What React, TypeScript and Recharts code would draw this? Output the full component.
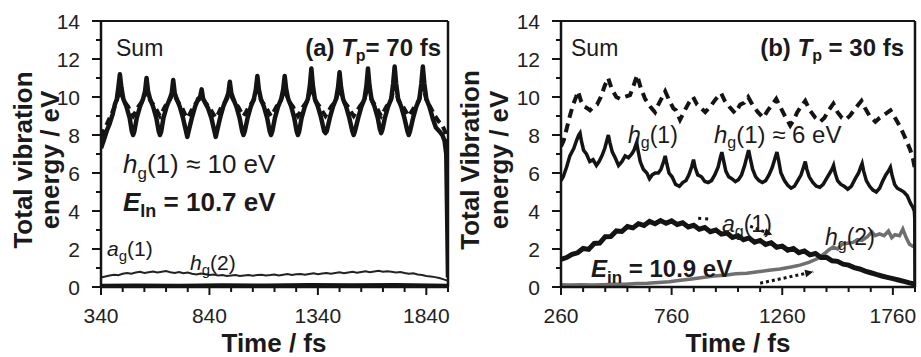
import React from "react";
import { LineChart, Line, XAxis, YAxis, ReferenceLine } from "recharts";

const FONT = "'Liberation Sans', Arial, Helvetica, sans-serif";
const INK = "#141414";

// ---- panel (a): Tp = 70 fs, time / fs vs energy / eV ----
const aTicks = [340, 440, 540, 640, 740, 840, 940, 1040, 1140, 1240, 1340, 1440, 1540, 1640, 1740, 1840, 1940];
const aLabels = [340, 840, 1340, 1840];

const aHg1: [number, number][] = [
  [340, 7.3], [352, 7.7], [366, 8.2], [380, 8.6], [394, 9.1], [404, 9.6], [413, 9.9], [420, 10.5], [427, 11.2],
  [434, 10.5], [443, 9.9], [457, 9.5], [472, 8.9], [482, 8.2], [488, 8.0], [494, 8.2], [505, 8.9], [520, 9.5],
  [534, 9.9], [543, 10.3], [550, 11.0], [557, 10.3], [566, 9.9], [580, 9.5], [595, 8.9], [606, 8.2], [612, 8.0],
  [618, 8.2], [628, 8.9], [643, 9.5], [657, 9.9], [666, 10.2], [673, 10.9], [680, 10.2], [689, 9.9], [703, 9.5],
  [718, 8.9], [732, 8.2], [738, 7.9], [744, 8.2], [759, 8.9], [774, 9.5], [788, 9.9], [797, 10.0], [804, 10.4],
  [811, 9.9], [820, 9.7], [834, 9.4], [849, 8.9], [863, 8.2], [869, 7.9], [875, 8.2], [889, 8.9], [904, 9.5],
  [918, 9.9], [927, 10.2], [934, 10.8], [941, 10.2], [950, 9.9], [964, 9.5], [979, 8.9], [991, 8.2], [997, 8.0],
  [1003, 8.2], [1016, 8.9], [1031, 9.5], [1045, 9.9], [1054, 10.4], [1061, 11.1], [1068, 10.4], [1077, 9.9],
  [1091, 9.5], [1106, 8.9], [1118, 8.2], [1124, 8.0], [1130, 8.2], [1142, 8.9], [1157, 9.5], [1171, 9.9],
  [1180, 10.4], [1187, 11.1], [1194, 10.4], [1203, 9.9], [1217, 9.5], [1231, 8.9], [1242, 8.2], [1248, 8.0],
  [1254, 8.2], [1265, 8.9], [1280, 9.5], [1294, 9.9], [1303, 10.6], [1310, 11.5], [1317, 10.6], [1326, 9.9],
  [1340, 9.5], [1355, 8.9], [1369, 8.2], [1375, 8.1], [1381, 8.2], [1395, 8.9], [1410, 9.5], [1424, 9.9],
  [1433, 10.5], [1440, 11.3], [1447, 10.5], [1456, 9.9], [1470, 9.5], [1485, 8.9], [1499, 8.2], [1505, 8.0],
  [1511, 8.2], [1526, 8.9], [1541, 9.5], [1555, 9.9], [1564, 10.6], [1571, 11.5], [1578, 10.6], [1587, 9.9],
  [1601, 9.5], [1616, 8.9], [1626, 8.3], [1632, 8.1], [1638, 8.3], [1649, 8.9], [1664, 9.5], [1678, 9.9],
  [1687, 10.7], [1694, 11.6], [1701, 10.7], [1710, 9.9], [1724, 9.5], [1739, 8.9], [1753, 8.2], [1759, 8.0],
  [1765, 8.2], [1779, 8.9], [1794, 9.5], [1808, 9.9], [1817, 10.7], [1824, 11.6], [1831, 10.7], [1840, 9.9],
  [1854, 9.5], [1869, 8.9], [1884, 8.4], [1900, 8.2], [1914, 8.0], [1924, 7.7], [1932, 7.0], [1937, 3.0], [1940, 0.5],
];

const aSum: [number, number][] = [
  [340, 7.9], [360, 8.4], [380, 8.9], [400, 9.4], [415, 9.9], [427, 10.4], [445, 9.8], [465, 9.5], [478, 9.2],
  [488, 9.0], [498, 9.2], [512, 9.5], [532, 9.8], [550, 10.3], [568, 9.8], [588, 9.5], [602, 9.2], [612, 9.0],
  [622, 9.2], [635, 9.5], [655, 9.8], [673, 10.2], [691, 9.8], [711, 9.5], [727, 9.1], [738, 8.9], [749, 9.1],
  [766, 9.5], [786, 9.8], [804, 10.0], [822, 9.7], [842, 9.4], [858, 9.1], [869, 8.9], [880, 9.1], [896, 9.5],
  [916, 9.8], [934, 10.2], [952, 9.8], [972, 9.5], [986, 9.2], [997, 9.0], [1008, 9.2], [1023, 9.5], [1043, 9.8],
  [1061, 10.4], [1079, 9.8], [1099, 9.5], [1113, 9.2], [1124, 9.0], [1135, 9.2], [1149, 9.5], [1169, 9.8],
  [1187, 10.4], [1205, 9.8], [1225, 9.5], [1238, 9.2], [1248, 9.0], [1258, 9.2], [1272, 9.5], [1292, 9.8],
  [1310, 10.6], [1328, 9.8], [1348, 9.5], [1364, 9.2], [1375, 9.0], [1386, 9.2], [1402, 9.5], [1422, 9.8],
  [1440, 10.5], [1458, 9.8], [1478, 9.5], [1494, 9.2], [1505, 9.0], [1516, 9.2], [1533, 9.5], [1553, 9.8],
  [1571, 10.6], [1589, 9.8], [1609, 9.5], [1622, 9.2], [1632, 9.0], [1642, 9.2], [1656, 9.5], [1676, 9.8],
  [1694, 10.6], [1712, 9.8], [1732, 9.5], [1748, 9.2], [1759, 9.0], [1770, 9.2], [1786, 9.5], [1806, 9.8],
  [1824, 10.6], [1842, 9.8], [1862, 9.4], [1880, 9.0], [1898, 8.7], [1914, 8.5], [1926, 8.2], [1934, 7.8], [1940, 7.4],
];

const aAg1: [number, number][] = [
  [340, 0.5], [360, 0.55], [380, 0.6], [400, 0.65], [420, 0.62], [440, 0.7], [460, 0.74], [480, 0.7], [500, 0.76],
  [520, 0.8], [540, 0.74], [560, 0.78], [580, 0.82], [600, 0.76], [620, 0.8], [640, 0.84], [660, 0.78], [680, 0.74],
  [700, 0.79], [720, 0.72], [740, 0.76], [760, 0.7], [780, 0.66], [800, 0.71], [820, 0.67], [840, 0.63], [860, 0.66],
  [880, 0.61], [900, 0.63], [920, 0.58], [940, 0.61], [960, 0.63], [980, 0.58], [1000, 0.61], [1020, 0.63],
  [1040, 0.59], [1060, 0.63], [1080, 0.65], [1100, 0.61], [1120, 0.63], [1140, 0.66], [1160, 0.61], [1180, 0.65],
  [1200, 0.68], [1220, 0.63], [1240, 0.67], [1260, 0.69], [1280, 0.65], [1300, 0.69], [1320, 0.72], [1340, 0.67],
  [1360, 0.71], [1380, 0.74], [1400, 0.7], [1420, 0.74], [1440, 0.77], [1460, 0.72], [1480, 0.76], [1500, 0.8],
  [1520, 0.75], [1540, 0.79], [1560, 0.83], [1580, 0.78], [1600, 0.82], [1620, 0.85], [1640, 0.8], [1660, 0.83],
  [1680, 0.8], [1700, 0.76], [1720, 0.79], [1740, 0.74], [1760, 0.7], [1780, 0.72], [1800, 0.66], [1820, 0.63],
  [1840, 0.58], [1860, 0.55], [1880, 0.52], [1900, 0.47], [1920, 0.4], [1940, 0.32],
];

const aHg2: [number, number][] = [
  [340, 0.06], [500, 0.08], [700, 0.07], [900, 0.09], [1100, 0.08], [1300, 0.1], [1500, 0.09], [1700, 0.1], [1940, 0.07],
];

// ---- panel (b): Tp = 30 fs ----
const bTicks = [260, 360, 460, 560, 660, 760, 860, 960, 1060, 1160, 1260, 1360, 1460, 1560, 1660, 1760, 1860];
const bLabels = [260, 760, 1260, 1760];

const bHg1: [number, number][] = [
  [260, 5.6], [270, 5.8], [285, 6.3], [300, 6.9], [318, 7.3], [330, 7.7], [340, 8.0], [346, 8.1], [352, 7.7],
  [362, 7.2], [375, 7.0], [390, 6.6], [405, 6.7], [420, 6.4], [432, 6.6], [445, 6.9], [458, 7.3], [467, 7.7],
  [474, 8.0], [481, 7.6], [492, 7.1], [505, 6.8], [520, 6.4], [535, 6.6], [550, 6.9], [565, 6.8], [580, 7.0],
  [590, 7.2], [596, 7.4], [602, 7.6], [608, 7.2], [618, 6.6], [632, 6.2], [648, 6.0], [660, 5.7], [672, 5.9],
  [686, 6.0], [700, 6.0], [712, 6.2], [724, 6.6], [731, 6.9], [738, 6.5], [748, 6.0], [762, 5.8], [778, 5.4],
  [795, 5.3], [810, 5.5], [825, 5.6], [838, 5.9], [850, 6.3], [859, 6.7], [866, 6.3], [878, 5.9], [895, 5.8],
  [910, 5.55], [925, 5.5], [940, 5.6], [955, 5.9], [970, 6.3], [980, 6.8], [987, 7.1], [994, 6.7], [1005, 6.1],
  [1018, 5.8], [1032, 5.7], [1048, 5.55], [1062, 5.65], [1076, 5.9], [1090, 6.4], [1101, 6.9], [1108, 7.2],
  [1115, 6.8], [1126, 6.2], [1140, 5.8], [1155, 5.6], [1170, 5.5], [1185, 5.6], [1200, 5.9], [1215, 6.3],
  [1228, 6.8], [1236, 7.1], [1243, 6.7], [1254, 6.0], [1270, 5.6], [1285, 5.35], [1300, 5.2], [1315, 5.3],
  [1330, 5.6], [1345, 5.9], [1356, 6.3], [1364, 6.6], [1371, 6.2], [1382, 5.8], [1398, 5.5], [1414, 5.3],
  [1430, 5.25], [1445, 5.4], [1460, 5.7], [1475, 6.0], [1485, 6.2], [1492, 6.4], [1499, 6.0], [1510, 5.6],
  [1525, 5.4], [1540, 5.3], [1556, 5.15], [1572, 5.3], [1590, 5.7], [1605, 6.0], [1614, 6.3], [1621, 6.5],
  [1628, 6.1], [1640, 5.6], [1655, 5.3], [1670, 5.1], [1685, 5.0], [1700, 5.2], [1715, 5.6], [1728, 5.9],
  [1740, 6.1], [1749, 6.3], [1756, 5.9], [1768, 5.4], [1780, 5.2], [1795, 5.1], [1810, 5.0], [1825, 4.8],
  [1840, 4.4], [1850, 4.2], [1857, 4.0], [1859, 3.6], [1860, 0.3],
];

const bSum: [number, number][] = [
  [260, 7.4], [272, 7.7], [285, 8.3], [300, 9.0], [315, 9.6], [328, 10.0], [337, 10.3], [350, 9.8], [365, 9.5],
  [380, 9.4], [391, 9.3], [407, 9.5], [423, 9.6], [440, 10.0], [458, 10.6], [473, 11.0], [490, 10.4], [510, 10.0],
  [527, 9.9], [545, 10.0], [572, 10.1], [588, 10.6], [604, 11.15], [620, 10.5], [640, 9.9], [663, 9.5], [685, 9.2],
  [700, 9.6], [718, 10.0], [731, 10.3], [750, 9.8], [768, 9.4], [780, 9.3], [798, 8.8], [815, 9.2], [838, 9.7],
  [857, 10.0], [875, 9.6], [895, 9.4], [912, 9.2], [935, 9.5], [960, 9.9], [984, 10.2], [1000, 9.8], [1020, 9.5],
  [1047, 9.15], [1070, 9.6], [1088, 9.7], [1106, 10.0], [1125, 9.6], [1150, 9.2], [1174, 8.9], [1195, 9.3],
  [1215, 9.6], [1233, 9.9], [1250, 9.5], [1272, 9.0], [1296, 8.5], [1312, 8.8], [1328, 9.2], [1345, 9.5],
  [1364, 9.8], [1385, 9.3], [1410, 8.9], [1432, 8.7], [1450, 8.9], [1470, 9.3], [1491, 9.65], [1510, 9.2],
  [1530, 8.9], [1545, 8.8], [1565, 9.0], [1590, 9.4], [1618, 9.8], [1635, 9.4], [1655, 9.0], [1681, 8.7],
  [1700, 8.9], [1725, 9.1], [1749, 9.3], [1765, 9.0], [1780, 8.7], [1794, 8.4], [1810, 8.0], [1825, 7.6],
  [1839, 7.2], [1850, 6.8], [1860, 6.2],
];

const bAg1: [number, number][] = [
  [260, 1.45], [285, 1.55], [310, 1.72], [335, 1.8], [360, 2.03], [385, 1.98], [410, 2.29], [435, 2.31],
  [460, 2.65], [485, 2.66], [510, 2.95], [535, 2.92], [560, 3.18], [585, 3.11], [610, 3.33], [635, 3.24],
  [660, 3.45], [685, 3.33], [710, 3.5], [735, 3.35], [760, 3.48], [785, 3.29], [810, 3.38], [835, 3.16],
  [860, 3.25], [885, 3.04], [910, 3.13], [935, 2.91], [960, 3.0], [985, 2.78], [1010, 2.84], [1035, 2.61],
  [1060, 2.7], [1085, 2.49], [1110, 2.58], [1135, 2.36], [1160, 2.45], [1185, 2.24], [1210, 2.33], [1235, 2.09],
  [1260, 2.15], [1285, 1.94], [1310, 2.03], [1335, 1.81], [1360, 1.9], [1385, 1.69], [1410, 1.76], [1435, 1.55],
  [1460, 1.56], [1485, 1.38], [1510, 1.35], [1535, 1.2], [1560, 1.15], [1585, 1.02], [1610, 0.95], [1635, 0.84],
  [1660, 0.75], [1685, 0.66], [1710, 0.58], [1735, 0.51], [1760, 0.44], [1785, 0.37], [1810, 0.3], [1835, 0.22],
  [1860, 0.15],
];

const bHg2: [number, number][] = [
  [260, 0.12], [300, 0.1], [350, 0.12], [400, 0.1], [450, 0.12], [500, 0.14], [550, 0.15], [600, 0.18], [650, 0.2],
  [700, 0.24], [750, 0.28], [800, 0.35], [850, 0.42], [900, 0.5], [950, 0.58], [1000, 0.62], [1050, 0.7],
  [1100, 0.72], [1150, 0.8], [1200, 0.88], [1250, 0.95], [1300, 1.05], [1340, 1.15], [1380, 1.3], [1420, 1.5],
  [1450, 1.75], [1470, 1.95], [1490, 2.1], [1510, 2.0], [1530, 2.25], [1555, 2.3], [1580, 2.35], [1600, 2.5],
  [1620, 2.45], [1645, 2.65], [1665, 2.9], [1680, 2.7], [1700, 2.8], [1720, 2.7], [1740, 2.95], [1755, 2.6],
  [1770, 2.75], [1790, 2.7], [1805, 3.05], [1820, 2.6], [1835, 2.25], [1850, 2.15], [1860, 2.1],
];

const yTicks = [0, 1, 2, 3, 4, 5, 6, 7, 8, 9, 10, 11, 12, 13, 14];
const yLabels = [0, 2, 4, 6, 8, 10, 12, 14];

const rows = (pts: [number, number][]) => pts.map(([t, e]) => ({ t, e }));

const XTick = (props: any) => {
  const { x, y, payload, labels } = props;
  const major = labels.includes(payload.value);
  return (
    <g>
      <line x1={x} y1={y} x2={x} y2={y + (major ? 8 : 5)} stroke={INK} strokeWidth={2} />
      {major && (
        <text x={x} y={y + 36} textAnchor="middle" fontSize={21} fontFamily={FONT} fill="#222">
          {payload.value}
        </text>
      )}
    </g>
  );
};

const YTick = (props: any) => {
  const { x, y, payload } = props;
  const major = yLabels.includes(payload.value);
  return (
    <g>
      <line x1={x} y1={y} x2={x - (major ? 9 : 5)} y2={y} stroke={INK} strokeWidth={2} />
      {major && (
        <text x={x - 21} y={y + 7.5} textAnchor="end" fontSize={21} fontFamily={FONT} fill="#222">
          {payload.value}
        </text>
      )}
    </g>
  );
};

const Arrow = (props: any) => {
  const { x1, y1, x2, y2 } = props;
  const a = Math.atan2(y2 - y1, x2 - x1);
  const h = 9;
  const p1 = `${x2 - h * Math.cos(a - 0.45)},${y2 - h * Math.sin(a - 0.45)}`;
  const p2 = `${x2 - h * Math.cos(a + 0.45)},${y2 - h * Math.sin(a + 0.45)}`;
  return (
    <g>
      <line x1={x1} y1={y1} x2={x2} y2={y2} stroke={INK} strokeWidth={3} strokeDasharray="3 3" />
      <polygon points={`${x2},${y2} ${p1} ${p2}`} fill={INK} />
    </g>
  );
};

const Dots = (props: any) => {
  const { x1, y1, x2, y2 } = props;
  return <line x1={x1} y1={y1} x2={x2} y2={y2} stroke={INK} strokeWidth={3} strokeDasharray="3 4" />;
};

function Panel({
  width,
  domain,
  ticks,
  labels,
  children,
}: {
  width: number;
  domain: [number, number];
  ticks: number[];
  labels: number[];
  children: React.ReactNode;
}) {
  return (
    <LineChart width={width} height={357} margin={{ top: 21, right: width === 460 ? 12 : 6, bottom: 0, left: 0 }}>
      <XAxis
        dataKey="t"
        type="number"
        domain={domain}
        ticks={ticks}
        interval={0}
        allowDataOverflow
        height={70}
        tickSize={0}
        tickMargin={0}
        tickLine={false}
        axisLine={{ stroke: INK, strokeWidth: 2.5 }}
        tick={(p: any) => <XTick {...p} labels={labels} />}
      />
      <YAxis
        type="number"
        domain={[0, 14]}
        ticks={yTicks}
        interval={0}
        allowDataOverflow
        width={101}
        tickSize={0}
        tickMargin={0}
        tickLine={false}
        axisLine={{ stroke: INK, strokeWidth: 2.5 }}
        tick={(p: any) => <YTick {...p} />}
      />
      <ReferenceLine y={14} stroke={INK} strokeWidth={2} />
      <ReferenceLine x={domain[1]} stroke={INK} strokeWidth={2.5} />
      {children}
    </LineChart>
  );
}

const sub = (s: string, size: number, dy: number) => (
  <tspan dy={dy} fontSize={size}>
    {s}
  </tspan>
);

export default function App() {
  return (
    <div style={{ position: "fixed", left: 0, top: 0, width: 921, height: 357, background: "#fff", fontFamily: FONT }}>
      <div style={{ position: "absolute", left: 0, top: 0 }}>
        <Panel width={460} domain={[340, 1940]} ticks={aTicks} labels={aLabels}>
          <Line data={rows(aHg2)} dataKey="e" stroke={INK} strokeWidth={4} dot={false} isAnimationActive={false} />
          <Line data={rows(aAg1)} dataKey="e" stroke="#222" strokeWidth={2} dot={false} isAnimationActive={false} />
          <Line
            data={rows(aSum)}
            dataKey="e"
            stroke={INK}
            strokeWidth={4}
            strokeDasharray="8 5"
            dot={false}
            isAnimationActive={false}
          />
          <Line
            data={rows(aHg1)}
            dataKey="e"
            stroke={INK}
            strokeWidth={4.5}
            strokeLinejoin="round"
            dot={false}
            isAnimationActive={false}
          />
        </Panel>
      </div>
      <div style={{ position: "absolute", left: 460, top: 0 }}>
        <Panel width={461} domain={[260, 1860]} ticks={bTicks} labels={bLabels}>
          <Line data={rows(bHg2)} dataKey="e" stroke="#6f6f6f" strokeWidth={3.5} dot={false} isAnimationActive={false} />
          <Line data={rows(bAg1)} dataKey="e" stroke={INK} strokeWidth={5} dot={false} isAnimationActive={false} />
          <Line data={rows(bHg1)} dataKey="e" stroke={INK} strokeWidth={3.5} dot={false} isAnimationActive={false} />
          <Line
            data={rows(bSum)}
            dataKey="e"
            stroke={INK}
            strokeWidth={4}
            strokeDasharray="9 6"
            dot={false}
            isAnimationActive={false}
          />
          <ReferenceLine segment={[{ x: 880, y: 3.62 }, { x: 930, y: 3.58 }]} shape={Dots} />
          <ReferenceLine segment={[{ x: 1115, y: 3.2 }, { x: 1215, y: 2.75 }]} shape={Arrow} />
          <ReferenceLine segment={[{ x: 1160, y: 0.2 }, { x: 1400, y: 0.8 }]} shape={Arrow} />
        </Panel>
      </div>
      <svg
        width={921}
        height={357}
        style={{ position: "absolute", left: 0, top: 0, pointerEvents: "none" }}
        fontFamily={FONT}
        fill="#1a1a1a"
      >
        {/* axis titles */}
        <text transform="translate(23,160) rotate(-90)" textAnchor="middle" dominantBaseline="central" fontSize={26} fontWeight={700}>
          Total vibration
        </text>
        <text transform="translate(50,160) rotate(-90)" textAnchor="middle" dominantBaseline="central" fontSize={26} fontWeight={700}>
          energy / eV
        </text>
        <text transform="translate(470,160) rotate(-90)" textAnchor="middle" dominantBaseline="central" fontSize={26} fontWeight={700}>
          Total Vibration
        </text>
        <text transform="translate(499,160) rotate(-90)" textAnchor="middle" dominantBaseline="central" fontSize={26} fontWeight={700}>
          energy / eV
        </text>
        <text x={274} y={352} textAnchor="middle" fontSize={26} fontWeight={700}>
          Time / fs
        </text>
        <text x={738} y={352} textAnchor="middle" fontSize={26} fontWeight={700}>
          Time / fs
        </text>

        {/* panel (a) annotations */}
        <text x={116} y={56} fontSize={23}>
          Sum
        </text>
        <text x={441} y={56} fontSize={24} fontWeight={700} textAnchor="end">
          (a) <tspan fontStyle="italic">T</tspan>
          {sub("p", 16, 5)}
          <tspan dy={-5}>= 70 fs</tspan>
        </text>
        <text x={123} y={173} fontSize={26}>
          <tspan fontStyle="italic">h</tspan>
          {sub("g", 17, 6)}
          <tspan dy={-6}>(1) ≈ 10 eV</tspan>
        </text>
        <text x={123} y={211} fontSize={26} fontWeight={700}>
          <tspan fontStyle="italic">E</tspan>
          {sub("In", 18, 6)}
          <tspan dy={-6}> = 10.7 eV</tspan>
        </text>
        <text x={107} y={256} fontSize={21}>
          <tspan fontStyle="italic">a</tspan>
          {sub("g", 15, 5)}
          <tspan dy={-5}>(1)</tspan>
        </text>
        <text x={190} y={270} fontSize={21}>
          <tspan fontStyle="italic">h</tspan>
          {sub("g", 15, 5)}
          <tspan dy={-5}>(2)</tspan>
        </text>

        {/* panel (b) annotations */}
        <text x={571} y={56} fontSize={23}>
          Sum
        </text>
        <text x={904} y={56} fontSize={24} fontWeight={700} textAnchor="end">
          (b) <tspan fontStyle="italic">T</tspan>
          {sub("p", 16, 5)}
          <tspan dy={-5}> = 30 fs</tspan>
        </text>
        <text x={628} y={143} fontSize={23}>
          <tspan fontStyle="italic">h</tspan>
          {sub("g", 16, 5)}
          <tspan dy={-5}>(1)</tspan>
        </text>
        <text x={714} y={143} fontSize={24}>
          <tspan fontStyle="italic">h</tspan>
          {sub("g", 16, 5)}
          <tspan dy={-5}>(1) ≈ 6 eV</tspan>
        </text>
        <text x={722} y={232} fontSize={23}>
          <tspan fontStyle="italic">a</tspan>
          {sub("g", 16, 5)}
          <tspan dy={-5}>(1)</tspan>
        </text>
        <text x={825} y={245} fontSize={23}>
          <tspan fontStyle="italic">h</tspan>
          {sub("g", 16, 5)}
          <tspan dy={-5}>(2)</tspan>
        </text>
        <text x={591} y={277} fontSize={24} fontWeight={700}>
          <tspan fontStyle="italic">E</tspan>
          {sub("in", 17, 6)}
          <tspan dy={-6}> = 10.9 eV</tspan>
        </text>
      </svg>
    </div>
  );
}
